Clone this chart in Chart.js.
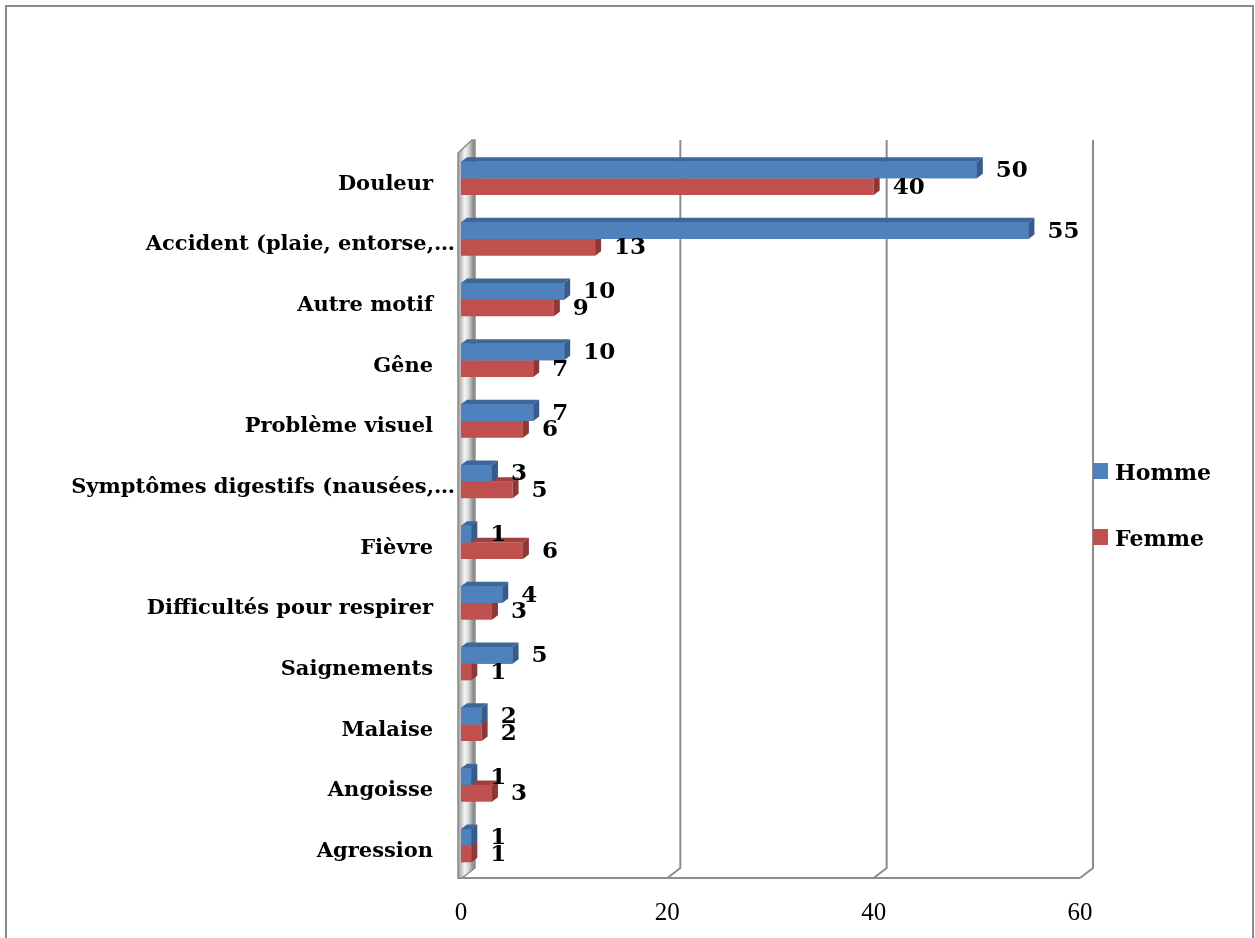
<!DOCTYPE html>
<html>
<head>
<meta charset="utf-8">
<script src="https://cdn.jsdelivr.net/npm/chart.js@4.4.1/dist/chart.umd.min.js"></script>
<style>
html,body{margin:0;padding:0;background:#fff;}
canvas{display:block;}
</style>
</head>
<body>
<canvas id="c" width="1255" height="938"></canvas>
<script>
const categories = [
  "Douleur",
  "Accident (plaie, entorse,…",
  "Autre motif",
  "Gêne",
  "Problème visuel",
  "Symptômes digestifs (nausées,…",
  "Fièvre",
  "Difficultés pour respirer",
  "Saignements",
  "Malaise",
  "Angoisse",
  "Agression"
];
const homme = [50, 55, 10, 10, 7, 3, 1, 4, 5, 2, 1, 1];
const femme = [40, 13, 9, 7, 6, 5, 6, 3, 1, 2, 3, 1];
const seriesNames = ["Homme", "Femme"];
const axisMin = 0, axisMax = 60, axisStep = 20;

const BLUE = "#4F81BD", RED = "#C0504D";
const SIDE = {"#4F81BD": "#345C8C", "#C0504D": "#8E3735"};
const TOP = {"#4F81BD": "#3D6699", "#C0504D": "#A03F3D"};
const VALUE_FONT = "bold 23px 'DejaVu Serif'";
const DX = 6, DY = 4.5;    // bar depth
const GDX = 13, GDY = 10;  // grid depth

const threeD = {
  id: "threeD",
  beforeDatasetsDraw(chart) {
    const ctx = chart.ctx, a = chart.chartArea, xs = chart.scales.x;
    const floorY = a.bottom + 2;
    const backTop = a.top - 8;
    ctx.save();
    ctx.strokeStyle = "#8c8c8c";
    ctx.lineWidth = 2;
    for (let v = axisMin + axisStep; v <= axisMax; v += axisStep) {
      const x = xs.getPixelForValue(v);
      ctx.beginPath();
      ctx.moveTo(x + GDX, backTop);
      ctx.lineTo(x + GDX, floorY - GDY);
      ctx.lineTo(x, floorY);
      ctx.stroke();
    }
    const x0 = xs.getPixelForValue(axisMin);
    const xMax = xs.getPixelForValue(axisMax);
    ctx.beginPath();
    ctx.moveTo(x0 - 3, floorY);
    ctx.lineTo(xMax, floorY);
    ctx.stroke();
    // wall
    const wl = x0 - 3, wr = x0 + 12;
    const g = ctx.createLinearGradient(wl, 0, wr, 0);
    g.addColorStop(0, "#9a9a9a");
    g.addColorStop(0.45, "#f4f4f4");
    g.addColorStop(0.7, "#d8d8d8");
    g.addColorStop(1, "#8e8e8e");
    ctx.fillStyle = g;
    ctx.beginPath();
    ctx.moveTo(wl, backTop + 13);
    ctx.lineTo(wl + GDX + 1, backTop);
    ctx.lineTo(wr + 2, backTop);
    ctx.lineTo(wr + 2, floorY - GDY);
    ctx.lineTo(wl + 4, floorY);
    ctx.lineTo(wl, floorY);
    ctx.closePath();
    ctx.fill();
    ctx.lineWidth = 1.5;
    ctx.strokeStyle = "#8a8a8a";
    ctx.stroke();
    ctx.restore();
  },
  afterDatasetsDraw(chart) {
    const ctx = chart.ctx;
    const metas = chart.data.datasets.map((d, i) => chart.getDatasetMeta(i));
    const n = chart.data.labels.length;
    ctx.save();
    for (let j = 0; j < n; j++) {
      for (let i = metas.length - 1; i >= 0; i--) {
        const el = metas[i].data[j];
        const col = chart.data.datasets[i].backgroundColor;
        const p = el.getProps(["x", "y", "base", "height"], true);
        const y0 = p.y - p.height / 2, y1 = p.y + p.height / 2;
        const xa = Math.min(p.base, p.x), xb = Math.max(p.base, p.x);
        if (i < metas.length - 1) el.draw(ctx);
        ctx.fillStyle = TOP[col];
        ctx.beginPath();
        ctx.moveTo(xa, y0); ctx.lineTo(xa + DX, y0 - DY); ctx.lineTo(xb + DX, y0 - DY); ctx.lineTo(xb, y0);
        ctx.closePath(); ctx.fill();
        ctx.fillStyle = SIDE[col];
        ctx.beginPath();
        ctx.moveTo(xb, y0); ctx.lineTo(xb + DX, y0 - DY); ctx.lineTo(xb + DX, y1 - DY); ctx.lineTo(xb, y1);
        ctx.closePath(); ctx.fill();
      }
    }
    ctx.font = VALUE_FONT;
    ctx.fillStyle = "#000";
    ctx.textAlign = "left";
    ctx.textBaseline = "middle";
    metas.forEach((m, i) => {
      m.data.forEach((el, j) => {
        const v = chart.data.datasets[i].data[j];
        ctx.fillText(String(v), el.x + 19, el.y + 1);
      });
    });
    ctx.restore();
  },
  afterDraw(chart) {
    const ctx = chart.ctx;
    ctx.save();
    ctx.font = "bold 22px 'DejaVu Serif'";
    ctx.textAlign = "left";
    ctx.textBaseline = "alphabetic";
    chart.data.datasets.forEach((d, i) => {
      const y = 463 + i * 66;
      ctx.fillStyle = d.backgroundColor;
      ctx.fillRect(1093, y, 15, 16);
      ctx.fillStyle = "#000";
      ctx.fillText(d.label, 1115, y + 17);
    });
    ctx.strokeStyle = "#8a8a8a";
    ctx.lineWidth = 2;
    ctx.strokeRect(6, 6, 1247, 960);
    ctx.restore();
  }
};

new Chart(document.getElementById("c"), {
  type: "bar",
  data: {
    labels: categories,
    datasets: [
      {label: seriesNames[0], data: homme, backgroundColor: BLUE, borderWidth: 0},
      {label: seriesNames[1], data: femme, backgroundColor: RED, borderWidth: 0}
    ]
  },
  options: {
    indexAxis: "y",
    responsive: false,
    animation: false,
    devicePixelRatio: 1,
    categoryPercentage: 0.55,
    barPercentage: 1,
    layout: {padding: {top: 148, right: 175, bottom: 0, left: 0}},
    plugins: {legend: {display: false}, tooltip: {enabled: false}},
    scales: {
      x: {
        min: axisMin, max: axisMax,
        grid: {display: false, drawTicks: false},
        border: {display: false},
        ticks: {stepSize: axisStep, padding: 22, color: "#000",
                font: {family: "'Liberation Serif'", size: 25}},
        afterFit(s) { s.height = 62; }
      },
      y: {
        grid: {display: false, drawTicks: false},
        border: {display: false},
        ticks: {
          padding: 6, color: "#000", labelOffset: 6, autoSkip: false,
          font: {family: "'DejaVu Serif'", size: 21, weight: "bold"},
          callback(value) {
            const l = this.getLabelForValue(value);
            return l.endsWith("…") ? l : l + "\u00a0\u00a0\u00a0";
          }
        },
        afterFit(s) { s.width = 461; }
      }
    }
  },
  plugins: [threeD]
});
</script>
</body>
</html>
